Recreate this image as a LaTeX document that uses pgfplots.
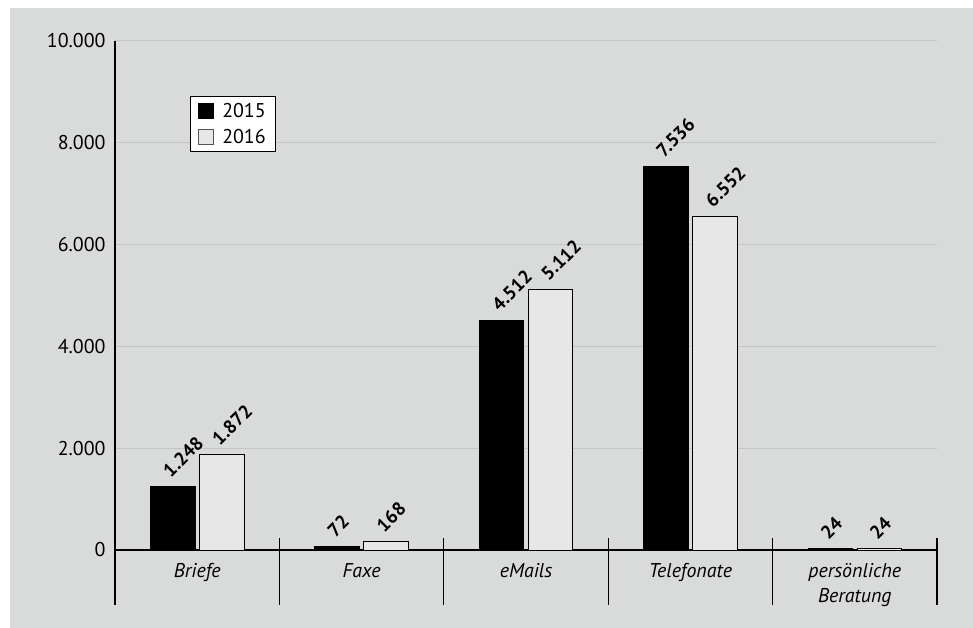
\documentclass[border=0pt]{standalone}
\usepackage{fontspec}
\setmainfont{PT Sans}
\usepackage{pgfplots}
\pgfplotsset{compat=1.18}

\definecolor{bggray}{HTML}{D9DADA}
\definecolor{gridgray}{HTML}{C3C4C4}
\definecolor{barlight}{HTML}{E6E7E6}
\definecolor{edgegray}{HTML}{555555}

\begin{document}
\begin{tikzpicture}[x=1bp,y=1bp]
% page background and panel
\fill[white] (0,0) rectangle (973,628);
\fill[bggray] (10,0) rectangle (973,620);
\path[use as bounding box] (0,0) rectangle (973,628);

\begin{axis}[
  at={(115bp,78bp)}, anchor=south west,
  scale only axis, width=822bp, height=509bp,
  xmin=0, xmax=5, ymin=0, ymax=10000,
  axis x line=bottom, axis y line=left,
  axis line style={-, line width=1.1bp, black},
  xtick={0.5,1.5,2.5,3.5,4.5},
  xticklabels={Briefe, Faxe, eMails, Telefonate, {persönliche\\Beratung}},
  xticklabel style={font=\fontsize{20}{24.5}\selectfont\itshape, align=center,
    anchor=north, yshift=-10bp},
  ytick={0,2000,4000,6000,8000,10000},
  scaled y ticks=false,
  major tick length=0pt,
  ymajorgrids, grid style={gridgray, line width=1bp},
  yticklabel style={font=\fontsize{20}{24}\selectfont, xshift=-6bp},
  /pgf/number format/.cd, 1000 sep={.}, assume math mode=true,
  /pgfplots/.cd,
  ybar, bar width=44.5bp,
  nodes near coords,
  every node near coord/.append style={font=\fontsize{19}{22}\selectfont\bfseries,
    anchor=base west, inner sep=0pt, xshift=-2bp, yshift=8bp, rotate=45},
  legend entries={2015,2016},
  legend style={at={(0.0912,0.892)}, anchor=north west, draw=black, fill=white,
    line width=1bp, font=\fontsize{20}{24}\selectfont,
    inner xsep=8bp, inner ysep=5bp, row sep=6bp,
    /tikz/every odd column/.append style={column sep=6bp}},
  legend cell align=left,
]
\addplot[fill=black, draw=black, line width=0.8bp, bar shift=-24.5bp,
  legend image code/.code={\draw[fill=black, draw=black, line width=0.8bp] (0bp,-7.5bp) rectangle (15bp,7.5bp);}]
  coordinates {(0.5,1248) (1.5,72) (2.5,4512) (3.5,7536) (4.5,24)};
\addplot[fill=barlight, draw=black, line width=0.8bp, bar shift=24.5bp,
  legend image code/.code={\draw[fill=barlight, draw=edgegray, line width=0.8bp] (0bp,-7.5bp) rectangle (15bp,7.5bp);}]
  coordinates {(0.5,1872) (1.5,168) (2.5,5112) (3.5,6552) (4.5,24)};
\end{axis}

% category separators below the baseline
\foreach \i in {0,...,5} {
  \draw[line width=1.2bp, black] (115+\i*164.4, 90) -- ++(0,-67);
}
\end{tikzpicture}
\end{document}
